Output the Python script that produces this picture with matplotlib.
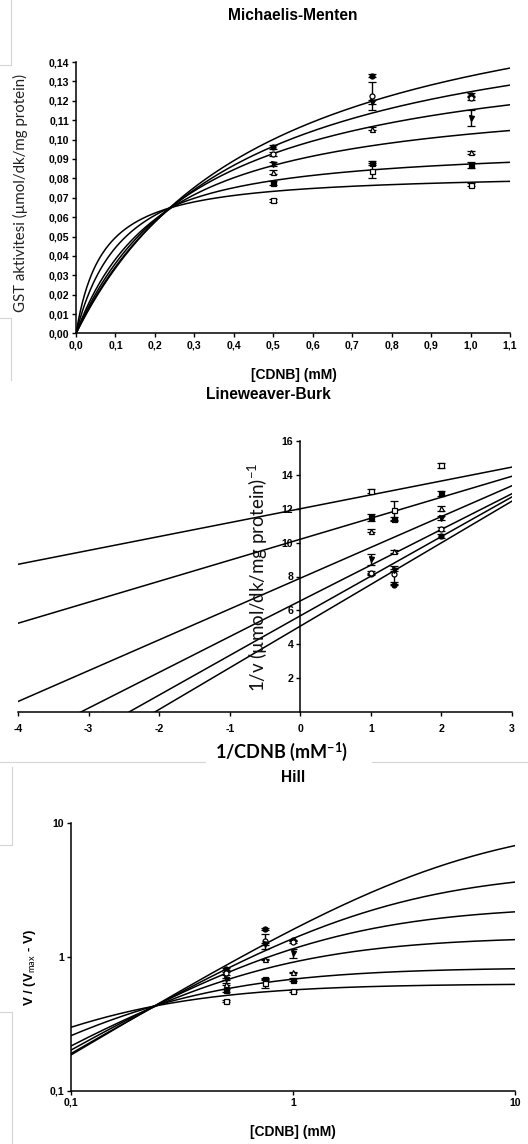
import numpy as np
import matplotlib
matplotlib.use('Agg')
import matplotlib.pyplot as plt
from matplotlib.lines import Line2D
from matplotlib.ticker import FuncFormatter, FixedLocator, NullLocator

plt.rcParams['font.family'] = ['Liberation Sans', 'DejaVu Sans']
plt.rcParams['mathtext.fontset'] = 'custom'
plt.rcParams['mathtext.rm'] = 'Lato'
plt.rcParams['mathtext.bf'] = 'Lato:bold'
plt.rcParams['mathtext.it'] = 'Lato:italic'

# ---------------- data ----------------
cdnb = [0.5, 0.75, 1.0]  # mM

v_filled_circle = [0.0963, 0.1330, 0.1230]
v_open_circle = [0.0926, 0.1225, 0.1215]
v_filled_tri = [0.0873, 0.1195, 0.1110]
v_open_tri = [0.0831, 0.1055, 0.0935]
v_filled_sq = [0.0775, 0.0878, 0.0870]
v_open_sq = [0.0687, 0.0840, 0.0767]

e_filled_circle = [0.0010, 0.0008, 0.0008]
e_open_circle = [0.0010, 0.0072, 0.0010]
e_filled_tri = [0.0010, 0.0010, 0.0040]
e_open_tri = [0.0010, 0.0008, 0.0008]
e_filled_sq = [0.0010, 0.0010, 0.0015]
e_open_sq = [0.0008, 0.0040, 0.0008]

# fitted Lineweaver-Burk lines (1/v = intercept + slope * 1/[S])
lb_intercept = [12.0, 10.2, 7.9, 6.56, 5.68, 5.07]
lb_slope = [0.82, 1.24, 1.82, 2.11, 2.34, 2.46]
hill_vmax = 0.216  # Vmax used in the Hill transform

mm_xticks = [0.0, 0.1, 0.2, 0.3, 0.4, 0.5, 0.6, 0.7, 0.8, 0.9, 1.0, 1.1]
mm_yticks = [0.00, 0.01, 0.02, 0.03, 0.04, 0.05, 0.06, 0.07, 0.08, 0.09, 0.10, 0.11, 0.12, 0.13, 0.14]
lb_xticks = [-4, -3, -2, -1, 0, 1, 2, 3]
lb_yticks = [2, 4, 6, 8, 10, 12, 14, 16]
hill_ticks = [0.1, 1, 10]

series = [
    (v_filled_circle, e_filled_circle, 'o', 'black'),
    (v_open_circle, e_open_circle, 'o', 'white'),
    (v_filled_tri, e_filled_tri, 'v', 'black'),
    (v_open_tri, e_open_tri, '^', 'white'),
    (v_filled_sq, e_filled_sq, 's', 'black'),
    (v_open_sq, e_open_sq, 's', 'white'),
]

W, H = 528, 1144
fig = plt.figure(figsize=(W / 100, H / 100), dpi=100)


def ax_px(left, top, right, bottom):
    return fig.add_axes([left / W, 1 - bottom / H, (right - left) / W, (bottom - top) / H])


def fy(y):
    return 1 - y / H


def fx(x):
    return x / W


LW = 1.1
TICK_FS = 7.6
TITLE_FS = 11.2


def style(ax):
    for s in ['top', 'right']:
        ax.spines[s].set_visible(False)
    for s in ['left', 'bottom']:
        ax.spines[s].set_linewidth(1.1)
    ax.tick_params(direction='out', length=3, width=1.0, pad=2)
    for lab in ax.get_xticklabels() + ax.get_yticklabels():
        lab.set_fontsize(TICK_FS)
        lab.set_fontweight('bold')


def comma(fmt):
    return FuncFormatter(lambda v, p: (fmt % v).replace('.', ','))


def points(ax, xs_fn, ys_fn, es_fn):
    for vals, errs, mk, fc in series:
        x = xs_fn()
        y = ys_fn(np.array(vals))
        e = es_fn(np.array(vals), np.array(errs))
        ax.errorbar(x, y, yerr=e, fmt=mk, ms=3.6, mfc=fc, mec='black', mew=0.9,
                    ecolor='black', elinewidth=1.0, capsize=3, capthick=1.0, zorder=4)


# ---------------- Michaelis-Menten ----------------
ax1 = ax_px(76, 62, 510, 333.5)
S = np.linspace(0, 1.1, 400)
for a, b in zip(lb_intercept, lb_slope):
    vmax, km = 1 / a, b / a
    ax1.plot(S, vmax * S / (km + S), color='black', lw=LW)
points(ax1, lambda: np.array(cdnb), lambda v: v, lambda v, e: e)
ax1.set_xlim(0, 1.1)
ax1.set_ylim(0, 0.14)
ax1.xaxis.set_major_locator(FixedLocator(mm_xticks))
ax1.yaxis.set_major_locator(FixedLocator(mm_yticks))
ax1.xaxis.set_major_formatter(comma('%.1f'))
ax1.yaxis.set_major_formatter(comma('%.2f'))
style(ax1)
fig.text(fx(293), fy(15), 'Michaelis-Menten', ha='center', va='center', fontsize=TITLE_FS, fontweight='bold')
fig.text(fx(20), fy(193), 'GST aktivitesi (µmol/dk/mg protein)', rotation=90, ha='center', va='center',
         fontsize=10.8, family=['Lato', 'DejaVu Sans'], color='#222222')
fig.text(fx(294), fy(375), '[CDNB] (mM)', ha='center', va='center', fontsize=10, fontweight='bold')

# ---------------- Lineweaver-Burk ----------------
ax2 = ax_px(18, 441, 512, 712)
X = np.linspace(-4, 3, 200)
for a, b in zip(lb_intercept, lb_slope):
    ax2.plot(X, a + b * X, color='black', lw=LW)
inv_s = 1 / np.array(cdnb)
points(ax2, lambda: inv_s, lambda v: 1 / v, lambda v, e: e / v ** 2)
ax2.set_xlim(-4, 3)
ax2.set_ylim(0, 16)
ax2.spines['left'].set_position(('data', 0))
ax2.xaxis.set_major_locator(FixedLocator(lb_xticks))
ax2.yaxis.set_major_locator(FixedLocator(lb_yticks))
ax2.xaxis.set_major_formatter(FuncFormatter(lambda v, p: '%d' % v))
ax2.yaxis.set_major_formatter(FuncFormatter(lambda v, p: '%d' % v))
style(ax2)
ax2.tick_params(axis='x', pad=6)
fig.text(fx(268), fy(395), 'Lineweaver-Burk', ha='center', va='center', fontsize=TITLE_FS, fontweight='bold')
fig.text(fx(258), fy(577), r'1/v (µmol/dk/mg protein)$^{-1}$', rotation=90, ha='center', va='center',
         fontsize=13.5, family=['Lato', 'DejaVu Sans'], color='#111111', zorder=10)
fig.text(fx(282), fy(752), r'1/CDNB (mM$^{\mathbf{-1}}$)', ha='center', va='center', fontsize=13,
         fontweight='bold', family=['Lato', 'DejaVu Sans'])

# ---------------- Hill ----------------
ax3 = ax_px(71, 822.7, 515, 1090.7)
Sh = np.logspace(-1, 1, 400)
for a, b in zip(lb_intercept, lb_slope):
    vmax, km = 1 / a, b / a
    v = vmax * Sh / (km + Sh)
    ax3.plot(Sh, v / (hill_vmax - v), color='black', lw=LW)
points(ax3, lambda: np.array(cdnb), lambda v: v / (hill_vmax - v),
       lambda v, e: hill_vmax * e / (hill_vmax - v) ** 2)
ax3.set_xscale('log')
ax3.set_yscale('log')
ax3.set_xlim(0.1, 10)
ax3.set_ylim(0.1, 10)
ax3.xaxis.set_major_locator(FixedLocator(hill_ticks))
ax3.yaxis.set_major_locator(FixedLocator(hill_ticks))
ax3.xaxis.set_minor_locator(NullLocator())
ax3.yaxis.set_minor_locator(NullLocator())
ax3.xaxis.set_major_formatter(FuncFormatter(lambda v, p: ('%g' % v).replace('.', ',')))
ax3.yaxis.set_major_formatter(FuncFormatter(lambda v, p: ('%g' % v).replace('.', ',')))
style(ax3)
fig.text(fx(293), fy(777), 'Hill', ha='center', va='center', fontsize=TITLE_FS, fontweight='bold')
fig.text(fx(30), fy(968), r'V / (V$_{\mathrm{max}}$ - V)', rotation=90, ha='center', va='center',
         fontsize=9.5, fontweight='bold')
fig.text(fx(293), fy(1132), '[CDNB] (mM)', ha='center', va='center', fontsize=10, fontweight='bold')

# ---------------- faint screenshot frame lines ----------------
gray = '#d4d4d4'
segs = [
    ((11, 0), (11, 65)), ((0, 65), (11, 65)),
    ((0, 318), (11, 318)), ((11, 318), (11, 380)),
    ((0, 762), (205, 762)), ((372, 762), (528, 762)),
    ((12, 767), (12, 845)), ((0, 845), (12, 845)),
    ((0, 1012), (12, 1012)), ((12, 1012), (12, 1144)),
]
for (x0, y0), (x1, y1) in segs:
    fig.add_artist(Line2D([fx(x0), fx(x1)], [fy(y0), fy(y1)], color=gray, lw=0.8))

fig.savefig('out.png', dpi=100)
